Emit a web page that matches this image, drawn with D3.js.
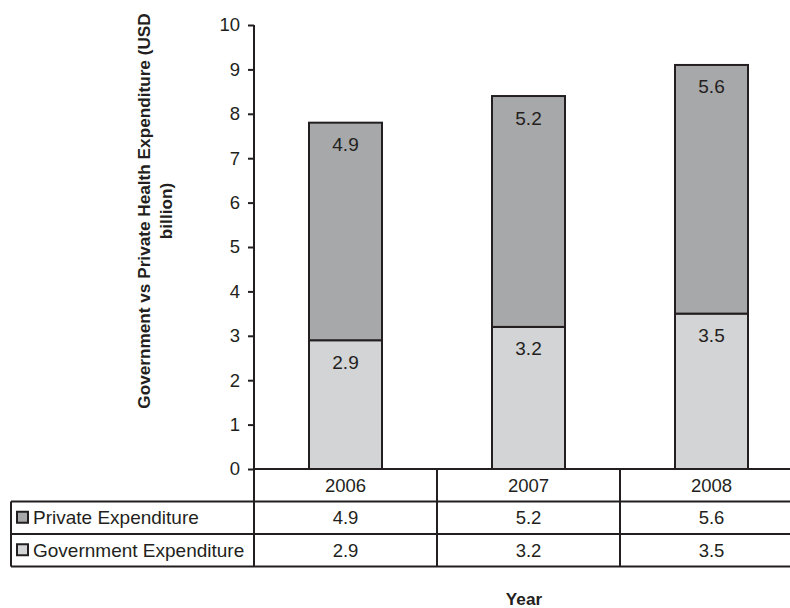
<!DOCTYPE html>
<html>
<head>
<meta charset="utf-8">
<script src="https://cdn.jsdelivr.net/npm/d3@7"></script>
<style>
  html, body { margin: 0; padding: 0; background: #fff; }
  svg { display: block; font-family: "Liberation Sans", Arial, Helvetica, sans-serif; }
</style>
</head>
<body>
<svg id="chart" width="790" height="608"></svg>
<script>
// Health expenditure by year (USD billion)
const years = ["2006", "2007", "2008"];
const governmentValues = [2.9, 3.2, 3.5];
const privateValues = [4.9, 5.2, 5.6];
const yTicks = [0, 1, 2, 3, 4, 5, 6, 7, 8, 9, 10];
const seriesNames = ["Private Expenditure", "Government Expenditure"];

const ink = "#231f20";
const fills = { "Private Expenditure": "#a7a8aa", "Government Expenditure": "#d3d4d6" };
const fontSize = 18.5;

const svg = d3.select("#chart");

// plot geometry
const plotLeft = 254, plotRight = 803, plotTop = 25, plotBottom = 469;
const rowH = 32.5;
const barW = 73;

const y = d3.scaleLinear().domain([0, 10]).range([plotBottom, plotTop]);
const x = d3.scaleBand().domain(years).range([plotLeft, plotRight]).padding(0);

// stacked data: government at the bottom, private on top
const rows = years.map((yr, i) => ({ year: yr, gov: governmentValues[i], priv: privateValues[i] }));
const stack = d3.stack().keys(["gov", "priv"])(rows);
const seriesOf = { gov: "Government Expenditure", priv: "Private Expenditure" };

const barX = d => x(d.data.year) + (x.bandwidth() - barW) / 2;

stack.forEach(layer => {
  const g = svg.append("g");
  g.selectAll("rect").data(layer).join("rect")
    .attr("x", barX)
    .attr("y", d => y(d[1]))
    .attr("width", barW)
    .attr("height", d => y(d[0]) - y(d[1]))
    .attr("fill", fills[seriesOf[layer.key]])
    .attr("stroke", ink)
    .attr("stroke-width", 2);
  g.selectAll("text").data(layer).join("text")
    .attr("x", d => x(d.data.year) + x.bandwidth() / 2)
    .attr("y", d => y(d[1]) + 22)
    .attr("text-anchor", "middle")
    .attr("dominant-baseline", "central")
    .attr("font-size", 19)
    .attr("fill", ink)
    .text(d => d.data[layer.key].toFixed(1));
});

// y axis
const yAxis = d3.axisLeft(y).tickValues(yTicks).tickSize(6).tickPadding(8).tickFormat(d3.format("d"));
const ya = svg.append("g").attr("transform", `translate(${plotLeft},0)`).call(yAxis);
ya.select(".domain").remove();
ya.selectAll(".tick line").attr("stroke", ink).attr("stroke-width", 2);
ya.selectAll(".tick text").attr("font-size", fontSize).attr("fill", ink)
  .attr("font-family", "Liberation Sans, Arial, sans-serif");
svg.append("line")
  .attr("x1", plotLeft).attr("x2", plotLeft)
  .attr("y1", plotTop).attr("y2", plotBottom + 3 * rowH)
  .attr("stroke", ink).attr("stroke-width", 2);

// data table below the plot
const tableLeft = 11;
const table = svg.append("g").attr("stroke", ink).attr("stroke-width", 2);
// horizontal rules
table.append("line").attr("x1", plotLeft).attr("x2", plotRight).attr("y1", plotBottom).attr("y2", plotBottom);
[1, 2, 3].forEach(r => {
  table.append("line").attr("x1", tableLeft).attr("x2", plotRight)
    .attr("y1", plotBottom + r * rowH).attr("y2", plotBottom + r * rowH);
});
// vertical rules
table.append("line").attr("x1", tableLeft).attr("x2", tableLeft)
  .attr("y1", plotBottom + rowH).attr("y2", plotBottom + 3 * rowH);
years.forEach(yr => {
  const xr = x(yr) + x.bandwidth();
  table.append("line").attr("x1", xr).attr("x2", xr)
    .attr("y1", plotBottom).attr("y2", plotBottom + 3 * rowH);
});

// header row: years
svg.append("g").selectAll("text").data(years).join("text")
  .attr("x", d => x(d) + x.bandwidth() / 2)
  .attr("y", plotBottom + rowH / 2)
  .attr("text-anchor", "middle")
  .attr("dominant-baseline", "central")
  .attr("font-size", fontSize).attr("fill", ink)
  .text(d => d);

// value rows with legend keys
const tableRows = [
  { name: seriesNames[0], values: privateValues },
  { name: seriesNames[1], values: governmentValues }
];
tableRows.forEach((row, r) => {
  const cy = plotBottom + (r + 1) * rowH + rowH / 2;
  svg.append("rect")
    .attr("x", 17).attr("y", cy - 6)
    .attr("width", 11).attr("height", 11)
    .attr("fill", fills[row.name]).attr("stroke", ink).attr("stroke-width", 2);
  svg.append("text")
    .attr("x", 33).attr("y", cy)
    .attr("dominant-baseline", "central")
    .attr("font-size", 19).attr("fill", ink)
    .text(row.name);
  svg.append("g").selectAll("text").data(row.values).join("text")
    .attr("x", (d, i) => x(years[i]) + x.bandwidth() / 2)
    .attr("y", cy)
    .attr("text-anchor", "middle")
    .attr("dominant-baseline", "central")
    .attr("font-size", fontSize).attr("fill", ink)
    .text(d => d.toFixed(1));
});

// axis titles
svg.append("text")
  .attr("transform", "translate(144,211) rotate(-90)")
  .attr("text-anchor", "middle")
  .attr("dominant-baseline", "central")
  .attr("font-size", 17.2).attr("font-weight", "bold").attr("fill", ink)
  .text("Government vs Private Health Expenditure (USD");
svg.append("text")
  .attr("transform", "translate(166,211) rotate(-90)")
  .attr("text-anchor", "middle")
  .attr("dominant-baseline", "central")
  .attr("font-size", 17.2).attr("font-weight", "bold").attr("fill", ink)
  .text("billion)");
svg.append("text")
  .attr("x", 524).attr("y", 605)
  .attr("text-anchor", "middle")
  .attr("font-size", 17.2).attr("font-weight", "bold").attr("fill", ink)
  .text("Year");
</script>
</body>
</html>
